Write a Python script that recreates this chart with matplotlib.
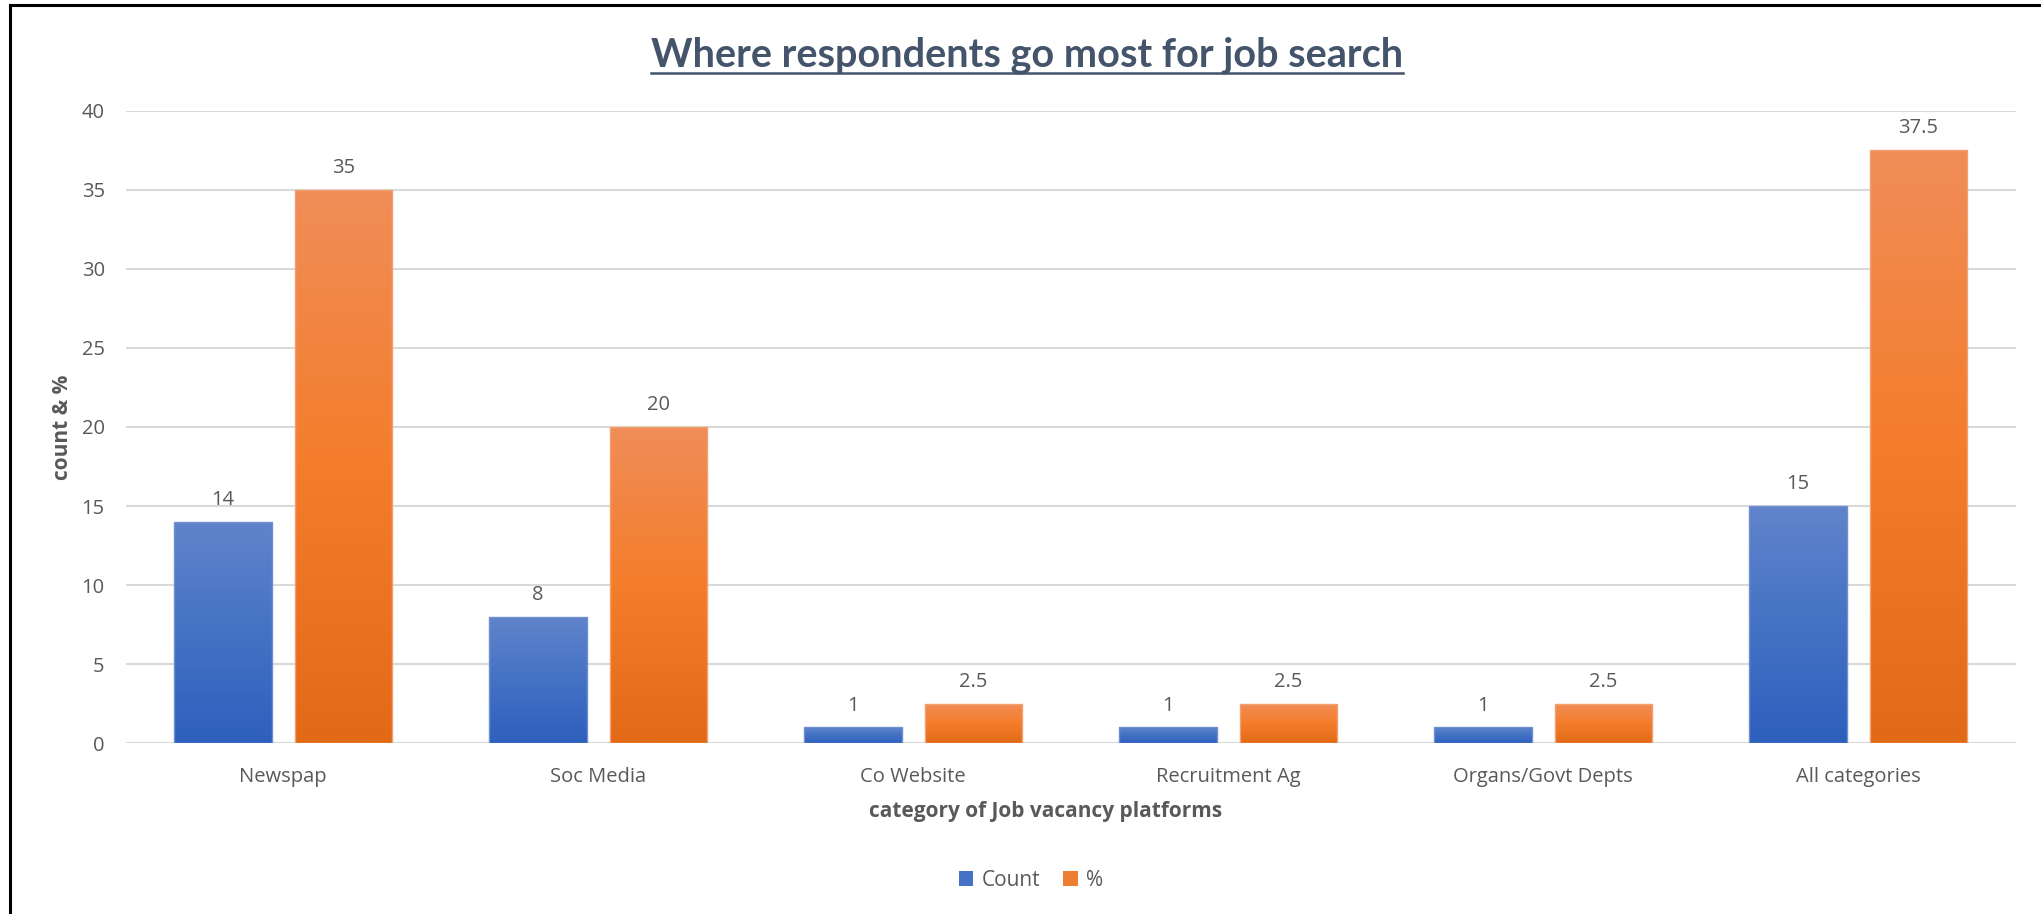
import numpy as np
import matplotlib.pyplot as plt
from matplotlib.colors import LinearSegmentedColormap
from matplotlib.patches import Patch
from matplotlib.lines import Line2D

# data
categories = ["Newspap", "Soc Media", "Co Website", "Recruitment Ag",
              "Organs/Govt Depts", "All categories"]
counts = [14, 8, 1, 1, 1, 15]
percents = [35, 20, 2.5, 2.5, 2.5, 37.5]
series_names = ["Count", "%"]

TEXT = "#595959"
TITLE = "#44546A"
GRID = "#D9D9D9"
BLUE_STOPS = ["#2D5FBD", "#4472C4", "#6184CB"]     # bottom -> top
ORANGE_STOPS = ["#E26A17", "#F47D2B", "#F08D58"]
BLUE_SOLID = "#4472C4"
ORANGE_SOLID = "#ED7D31"

BAR_W = 0.309
OFFSET = 0.191

plt.rcParams["font.family"] = ["Open Sans", "DejaVu Sans"]

fig = plt.figure(figsize=(20.41, 9.14), dpi=100)
ax = fig.add_axes([0.0615, 0.1868, 0.9261, 0.6922])

x = np.arange(len(categories))


def gradient_bars(xpos, values, stops, edge):
    bars = ax.bar(xpos, values, width=BAR_W, color="none", edgecolor=edge,
                  linewidth=1.0, zorder=3)
    cmap = LinearSegmentedColormap.from_list("g", stops)
    grad = np.linspace(0, 1, 256).reshape(-1, 1)
    for b in bars:
        x0, y0 = b.get_x(), b.get_y()
        im = ax.imshow(grad, cmap=cmap, origin="lower", aspect="auto",
                       extent=[x0, x0 + b.get_width(), y0, y0 + b.get_height()],
                       zorder=2)
        im.set_clip_path(b)
    return bars


b1 = gradient_bars(x - OFFSET, counts, BLUE_STOPS, "#6F8FD2")
b2 = gradient_bars(x + OFFSET, percents, ORANGE_STOPS, "#F3A070")

for bars, vals in [(b1, counts), (b2, percents)]:
    for b, v in zip(bars, vals):
        ax.annotate(f"{v:g}", (b.get_x() + b.get_width() / 2, v),
                    xytext=(0, 12), textcoords="offset points",
                    ha="center", va="baseline", fontsize=14.5, color=TEXT)

ax.set_xlim(-0.5, len(categories) - 0.5)
ax.set_ylim(0, 40)
ax.set_yticks(np.arange(0, 41, 5))
ax.set_xticks(x)
ax.set_xticklabels(categories)
ax.tick_params(axis="both", length=0, labelsize=14.5, labelcolor=TEXT)
ax.tick_params(axis="y", pad=15)
ax.tick_params(axis="x", pad=17)
ax.grid(axis="y", color=GRID, linewidth=1.5, zorder=0)
ax.set_axisbelow(True)
for s in ax.spines.values():
    s.set_visible(False)

ax.set_ylabel("count & %", fontsize=15, fontweight="bold", color=TEXT,
              labelpad=6)
fig.text(0.5125, 1 - 812 / 914, "category of Job vacancy platforms",
         ha="center", va="center", fontsize=15, fontweight="bold", color=TEXT)

# title with underline
title = fig.text(0.503, 1 - 67 / 914, "Where respondents go most for job search",
                 ha="center", va="baseline", fontsize=28.5, fontweight="bold",
                 color=TITLE, family=["Lato", "DejaVu Sans"])
fig.canvas.draw()
bb = title.get_window_extent()
uy = 1 - 73 / 914
fig.add_artist(Line2D([bb.x0 / fig.bbox.width, bb.x1 / fig.bbox.width], [uy, uy],
                      transform=fig.transFigure, color=TITLE, linewidth=1.8))

handles = [Patch(facecolor=BLUE_SOLID), Patch(facecolor=ORANGE_SOLID)]
fig.legend(handles, series_names, loc="center", ncol=2, frameon=False,
           bbox_to_anchor=(1031 / 2041, 1 - 880 / 914), fontsize=15,
           handlelength=0.7, handleheight=0.7, handletextpad=0.4,
           columnspacing=1.1, labelcolor=TEXT)

# chart frame (left and top edges visible in the reference)
fig.add_artist(Line2D([10 / 2041, 10 / 2041], [0, 1 - 4.5 / 914],
                      transform=fig.transFigure, color="black", linewidth=2.2))
fig.add_artist(Line2D([10 / 2041, 1], [1 - 4.5 / 914, 1 - 4.5 / 914],
                      transform=fig.transFigure, color="black", linewidth=2.2))

fig.savefig("out.png", dpi=100, facecolor="white")
